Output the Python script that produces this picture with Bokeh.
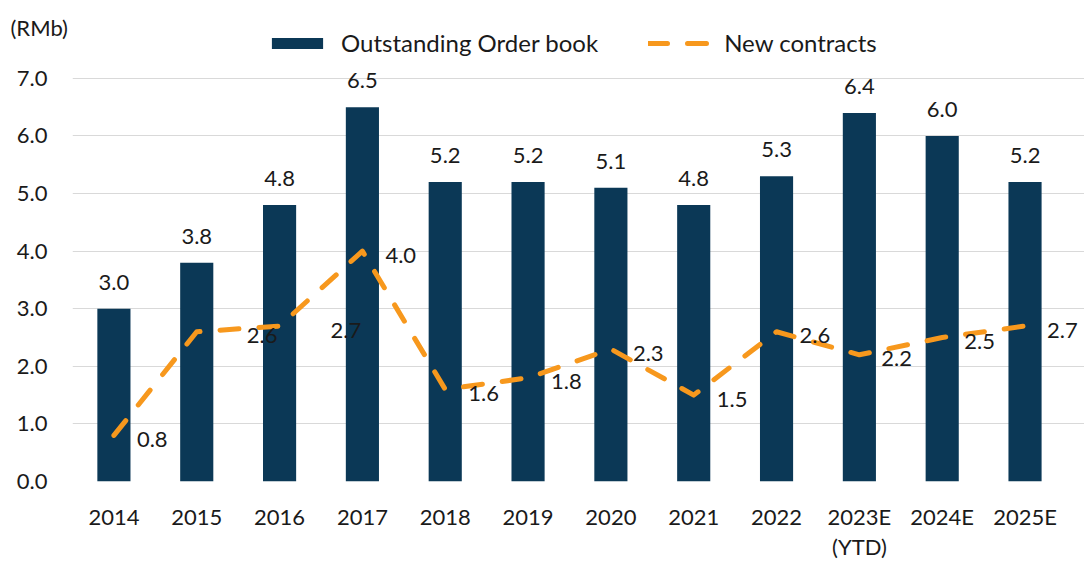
import numpy as np
from bokeh.plotting import figure
from bokeh.models import (ColumnDataSource, LabelSet, Label, Legend, LegendItem, FixedTicker,
                          Range1d, LinearAxis)
from bokeh.core.properties import value
from bokeh.embed import file_html
from bokeh.resources import INLINE

categories = ["2014", "2015", "2016", "2017", "2018", "2019", "2020", "2021", "2022", "2023E", "2024E", "2025E"]
sub_labels = {"2023E": "(YTD)"}
order_book = [3.0, 3.8, 4.8, 6.5, 5.2, 5.2, 5.1, 4.8, 5.3, 6.4, 6.0, 5.2]
new_contracts = [0.8, 2.6, 2.7, 4.0, 1.6, 1.8, 2.3, 1.5, 2.6, 2.2, 2.5, 2.7]
y_ticks = [0, 1, 2, 3, 4, 5, 6, 7]

# label placement (style)
line_label_dx = [23, 50, 51, 23, 23, 23, 22, 23, 23, 22, 22, 22]

FONT = "Lato"
BAR = "#0B3856"
ORANGE = "#F7981D"
TXT = "#1a1a1a"

pos = np.arange(len(categories))

src = ColumnDataSource(dict(
    x=pos,
    ob=order_book,
    nc=new_contracts,
    ob_txt=[f"{v:.1f}" for v in order_book],
    nc_txt=[f"{v:.1f}" for v in new_contracts],
    dx=line_label_dx,
))

p = figure(width=1084, height=562, x_range=Range1d(-0.5, len(categories) - 0.5 + 0.218),
           y_range=Range1d(0, 7.884), output_backend="svg", toolbar_location=None,
           min_border_left=72, min_border_right=0, min_border_top=27, min_border_bottom=80)
p.outline_line_color = None
p.background_fill_color = "white"

bars = p.vbar(x="x", top="ob", width=0.4, source=src, fill_color=BAR, line_color=None)
line = p.line(x="x", y="nc", source=src, line_color=ORANGE, line_width=5,
              line_dash="19 20", line_cap="round", line_join="round")

p.text(x="x", y="ob", text="ob_txt", source=src, text_align="center", text_baseline="bottom",
       y_offset=-19, text_font=value(FONT), text_font_size="22px", text_color=TXT)

nc_labels = LabelSet(x="x", y="nc", text="nc_txt", source=src, x_offset="dx", y_offset=-4,
                     text_align="left", text_baseline="middle", text_font=value(FONT),
                     text_font_size="22px", text_color=TXT)
p.add_layout(nc_labels)

p.add_layout(Label(x=-62, y=0, x_units="screen", y_units="screen", text="(RMb)",
                   text_align="left", text_baseline="middle",
                   text_font=FONT, text_font_size="22px", text_color=TXT), "above")

p.yaxis.ticker = FixedTicker(ticks=y_ticks)
p.yaxis.major_label_overrides = {t: f"{t:.1f}" for t in y_ticks}
p.yaxis.axis_line_color = None
p.yaxis.major_tick_line_color = None
p.yaxis.minor_tick_line_color = None
p.yaxis.major_label_standoff = 19
p.yaxis.major_label_text_font = FONT
p.yaxis.major_label_text_font_size = "22px"
p.yaxis.major_label_text_color = TXT

p.xaxis.ticker = FixedTicker(ticks=list(pos))
p.xaxis.major_label_overrides = {int(i): c for i, c in zip(pos, categories)}
p.xaxis.axis_line_color = None
p.xaxis.major_tick_line_color = None
p.xaxis.minor_tick_line_color = None
p.xaxis.major_label_standoff = 15
p.xaxis.major_label_text_font = FONT
p.xaxis.major_label_text_font_size = "22px"
p.xaxis.major_label_text_color = TXT

sub_pos = [int(i) for i, c in zip(pos, categories) if c in sub_labels]
sub_axis = LinearAxis(ticker=FixedTicker(ticks=sub_pos),
                      major_label_overrides={i: sub_labels[categories[i]] for i in sub_pos},
                      axis_line_color=None, major_tick_line_color=None, minor_tick_line_color=None,
                      major_label_standoff=-6, major_label_text_font=FONT,
                      major_label_text_font_size="22px", major_label_text_color=TXT)
p.add_layout(sub_axis, "below")

p.xgrid.grid_line_color = None
p.ygrid.grid_line_color = "#D9D9D9"
p.ygrid.grid_line_width = 1.2

legend = Legend(items=[LegendItem(label="Outstanding Order book", renderers=[bars]),
                       LegendItem(label="New contracts", renderers=[line])],
                location=(193, 424), orientation="horizontal", border_line_color=None,
                background_fill_alpha=0, margin=0, padding=0, spacing=50, label_standoff=12,
                glyph_width=64, glyph_height=14, label_text_font=FONT, label_text_font_size="24px",
                label_text_color=TXT)
p.add_layout(legend)

open("out.html", "w").write(file_html(p, INLINE))
